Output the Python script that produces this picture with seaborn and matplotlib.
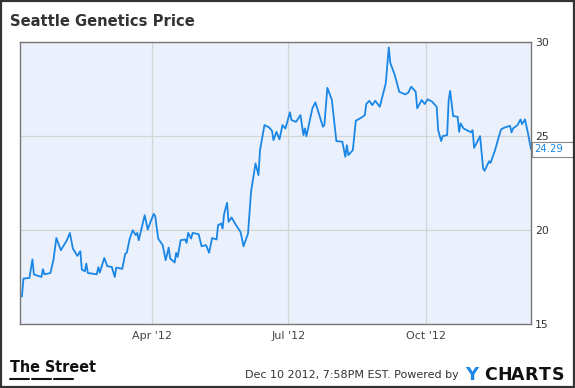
import matplotlib
matplotlib.use("Agg")
import matplotlib.pyplot as plt
from matplotlib.patches import Rectangle
from matplotlib.lines import Line2D
from matplotlib.transforms import blended_transform_factory
import seaborn as sns
import pandas as pd

# ---- data ----
title = "Seattle Genetics Price"
# day of year 2012 (0 = Jan 1)
day_of_year = [2, 4, 5, 9, 11, 12, 17, 18, 19, 23, 25, 27, 30, 34, 36, 38, 41, 43, 44, 46,
               47, 48, 54, 55, 56, 59, 61, 64, 66, 67, 71, 73, 74, 76, 78, 80, 81, 82, 86, 88,
               90, 92, 93, 95, 98, 100, 102, 103, 106, 107, 108, 110, 113, 114, 115, 117, 118, 122, 124, 127,
               129, 131, 134, 135, 137, 138, 139, 141, 142, 144, 147, 150, 152, 155, 157, 160, 162, 163, 164, 166,
               169, 171, 172, 174, 176, 178, 180, 183, 184, 187, 190, 192, 193, 194, 198, 200, 205, 206, 208, 211,
               214, 218, 220, 221, 222, 225, 227, 231, 233, 234, 236, 238, 240, 243, 247, 249, 250, 253, 256, 260,
               262, 264, 267, 268, 271, 273, 275, 278, 281, 282, 284, 285, 288, 289, 290, 292, 295, 296, 297, 299,
               304, 305, 306, 310, 312, 313, 316, 317, 320, 322, 324, 326, 330, 331, 332, 335, 337, 338, 340, 342,
               344]
price = [16.44, 16.47, 17.41, 17.45, 18.43, 17.63, 17.50, 17.91, 17.64, 17.71, 18.39, 19.57, 18.92, 19.45, 19.84, 19.01, 18.62, 18.87, 17.89, 17.80,
         18.21, 17.71, 17.64, 18.02, 17.73, 18.51, 18.07, 18.03, 17.50, 18.00, 17.93, 18.74, 18.78, 19.54, 19.98, 19.72, 19.84, 19.45, 20.78, 20.02,
         20.45, 20.85, 20.73, 19.54, 19.19, 18.39, 19.06, 18.48, 18.27, 18.78, 18.56, 19.45, 19.49, 19.31, 19.84, 19.54, 19.84, 19.77, 19.13, 19.19,
         18.78, 19.57, 19.49, 20.25, 20.34, 20.07, 20.84, 21.44, 20.43, 20.66, 20.25, 19.89, 19.13, 19.81, 22.02, 23.53, 22.91, 24.24, 24.68, 25.57,
         25.45, 25.27, 24.77, 25.21, 24.81, 25.57, 25.39, 26.25, 25.84, 25.74, 26.10, 25.04, 25.39, 24.98, 26.46, 26.78, 25.48, 25.57, 27.55, 26.90,
         24.72, 24.68, 23.88, 24.50, 23.97, 24.24, 25.80, 25.98, 26.10, 26.69, 26.86, 26.63, 26.86, 26.54, 27.79, 29.70, 28.88, 28.23, 27.34, 27.20,
         27.29, 27.61, 27.34, 26.46, 26.90, 26.69, 26.94, 26.81, 26.54, 25.30, 24.72, 24.98, 25.04, 26.90, 27.39, 26.05, 26.01, 25.21, 25.66, 25.39,
         25.18, 25.30, 24.36, 24.98, 23.27, 23.14, 23.65, 23.56, 24.24, 24.81, 25.34, 25.43, 25.53, 25.18, 25.39, 25.57, 25.87, 25.62, 25.87, 25.13,
         24.29]
x_tick_dates = ["2012-04-01", "2012-07-01", "2012-10-01"]
x_tick_labels = ["Apr '12", "Jul '12", "Oct '12"]
y_ticks = [15, 20, 25, 30]
last_label = "24.29"
footer_text = "Dec 10 2012, 7:58PM EST. Powered by"

assert len(day_of_year) == len(price)

df = pd.DataFrame({
    "date": pd.Timestamp("2012-01-01") + pd.to_timedelta(day_of_year, unit="D"),
    "price": price,
})

sns.set_style("white")
plt.rcParams['font.family'] = ['DejaVu Sans']

fig = plt.figure(figsize=(5.75, 3.88), dpi=100)
ax_left, ax_right = 19.7 / 575, 531 / 575
ax = fig.add_axes([ax_left, 1 - 324 / 388, ax_right - ax_left, (324 - 41.7) / 388])
ax.set_facecolor("#eaf1fc")

sns.lineplot(data=df, x="date", y="price", ax=ax, color="#1a87e6", linewidth=1.3)

ax.set_xlim(pd.Timestamp("2012-01-03 12:00"), pd.Timestamp("2012-12-10"))
ax.set_ylim(15, 30)
ax.set_xlabel("")
ax.set_ylabel("")

ax.set_xticks(pd.to_datetime(x_tick_dates))
ax.set_xticklabels(x_tick_labels, fontsize=8, color="#444444")
ax.yaxis.tick_right()
ax.set_yticks(y_ticks)
ax.set_yticklabels([str(v) for v in y_ticks], fontsize=7.8, color="#333333")
ax.tick_params(axis="both", length=0)
ax.tick_params(axis="x", pad=5)
ax.tick_params(axis="y", pad=3)

ax.grid(True, color="#d4d4d4", linewidth=0.9)
for s in ax.spines.values():
    s.set_color("#777777")
    s.set_linewidth(1.0)

# last value label with box
blend = blended_transform_factory(fig.transFigure, ax.transData)
box_w = (574 - 532) / 575
ax.add_patch(Rectangle((ax_right + 0.5 / 575, price[-1] - 0.4), box_w, 0.8,
                       transform=blend, fc="white", ec="#888888", lw=0.8,
                       clip_on=False, zorder=5))
ax.text(534.5 / 575, price[-1], last_label, transform=blend, fontsize=7.3,
        color="#1a87e6", ha="left", va="center", zorder=6, clip_on=False)

# title
fig.text(10.5 / 575, 1 - 26 / 388, title, fontsize=10.6, fontweight="bold",
         color="#333333", ha="left", va="baseline")

# footer
fig.text(9.5 / 575, 1 - 372 / 388, "The Street", fontsize=11.5, fontweight="bold",
         family=["DejaVu Sans"], fontstretch="condensed", color="#111111",
         ha="left", va="baseline")
for x0 in (9.5, 31.5, 53.5):
    fig.add_artist(Line2D([x0 / 575, (x0 + 19.5) / 575], [1 - 378.5 / 388] * 2,
                          color="#111111", lw=1.5, transform=fig.transFigure))
fig.text(459 / 575, 1 - 378.5 / 388, footer_text, fontsize=8, color="#333333",
         ha="right", va="baseline")
fig.text(465 / 575, 1 - 380 / 388, "Y", fontsize=13, fontweight="bold",
         color="#1a87e6", ha="left", va="baseline")
for i, ch in enumerate("CHARTS"):
    fig.text((484 + i * 13.6) / 575, 1 - 380 / 388, ch, fontsize=12.5, fontweight="bold",
             color="#111111", ha="left", va="baseline")

# outer frame
fig.add_artist(Rectangle((0.001, 0.002), 0.998, 0.996, transform=fig.transFigure,
                         fill=False, ec="#333333", lw=1.6))

fig.savefig("out.png", dpi=100)
